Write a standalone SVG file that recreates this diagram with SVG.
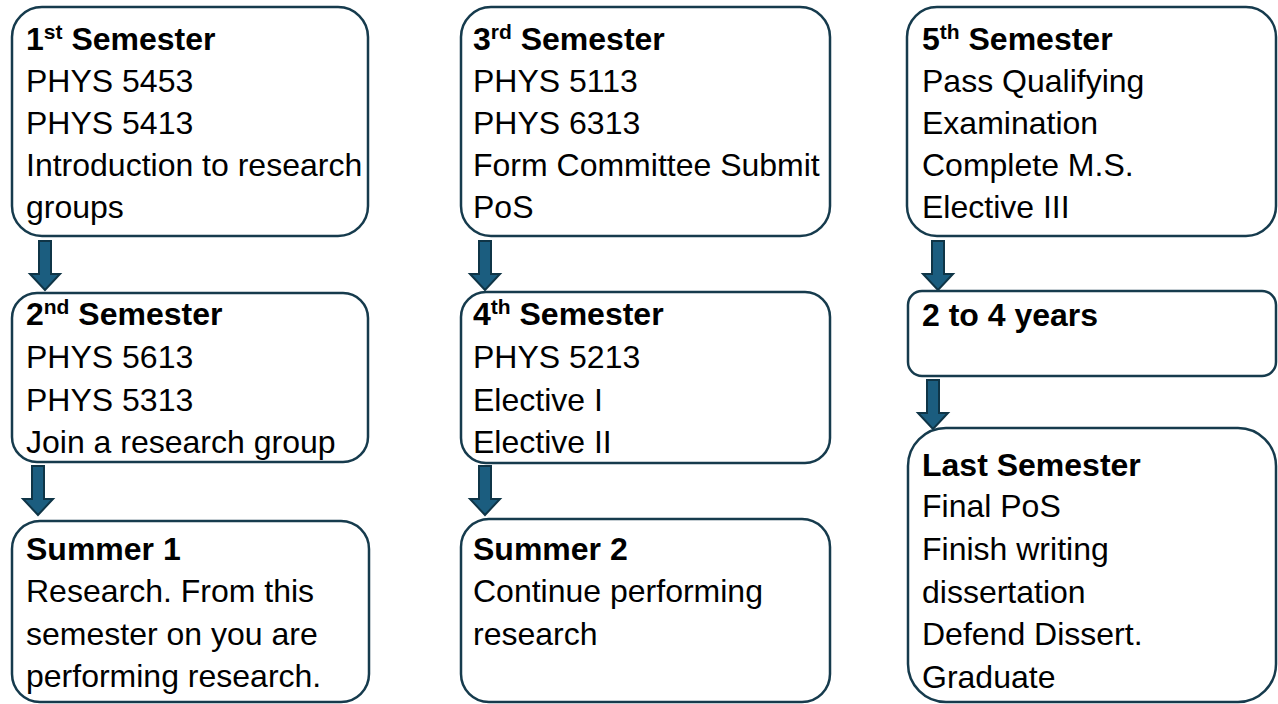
<svg xmlns="http://www.w3.org/2000/svg" width="1278" height="704" viewBox="0 0 1278 704">
<style>
.box{fill:#ffffff;stroke:#163b4d;stroke-width:2.5}
.t{font-family:"Liberation Sans",Arial,sans-serif;font-size:32px;fill:#000000}
.b{font-weight:bold}
.sup{font-size:21px}
.arr{fill:#1b5d7f;stroke:#0f3547;stroke-width:2;stroke-linejoin:miter}
</style>
<defs>
<path id="arrow" class="arr" d="M -6 0 H 6 V 33 H 15 L 0 49 L -15 33 H -6 Z"/>
</defs>
<rect width="1278" height="704" fill="#ffffff"/>
<g id="connectors">
<use href="#arrow" x="45" y="241"/>
<use href="#arrow" x="38" y="466"/>
<use href="#arrow" x="485" y="241"/>
<use href="#arrow" x="485" y="466"/>
<use href="#arrow" x="938" y="241"/>
<use href="#arrow" x="933" y="380"/>
</g>
<g id="sem1">
<rect class="box" x="12" y="7" width="356" height="229" rx="30"/>
<text class="t" x="26" y="50"><tspan class="b">1</tspan><tspan class="b sup" dy="-11">st</tspan><tspan class="b" dy="11"> Semester</tspan></text>
<text class="t" x="26" y="92">PHYS 5453</text>
<text class="t" x="26" y="134">PHYS 5413</text>
<text class="t" x="26" y="176">Introduction to research</text>
<text class="t" x="26" y="218">groups</text>
</g>
<g id="sem2">
<rect class="box" x="12" y="293" width="356" height="169" rx="25"/>
<text class="t" x="26" y="325"><tspan class="b">2</tspan><tspan class="b sup" dy="-11">nd</tspan><tspan class="b" dy="11"> Semester</tspan></text>
<text class="t" x="26" y="368">PHYS 5613</text>
<text class="t" x="26" y="411">PHYS 5313</text>
<text class="t" x="26" y="453">Join a research group</text>
</g>
<g id="summer1">
<rect class="box" x="12" y="521" width="357" height="181" rx="28"/>
<text class="t b" x="26" y="560">Summer 1</text>
<text class="t" x="26" y="602">Research. From this</text>
<text class="t" x="26" y="645">semester on you are</text>
<text class="t" x="26" y="687">performing research.</text>
</g>
<g id="sem3">
<rect class="box" x="461" y="7" width="369" height="229" rx="30"/>
<text class="t" x="473" y="50"><tspan class="b">3</tspan><tspan class="b sup" dy="-11">rd</tspan><tspan class="b" dy="11"> Semester</tspan></text>
<text class="t" x="473" y="92">PHYS 5113</text>
<text class="t" x="473" y="134">PHYS 6313</text>
<text class="t" x="473" y="176">Form Committee Submit</text>
<text class="t" x="473" y="218">PoS</text>
</g>
<g id="sem4">
<rect class="box" x="461" y="292" width="369" height="171" rx="25"/>
<text class="t" x="473" y="325"><tspan class="b">4</tspan><tspan class="b sup" dy="-11">th</tspan><tspan class="b" dy="11"> Semester</tspan></text>
<text class="t" x="473" y="368">PHYS 5213</text>
<text class="t" x="473" y="411">Elective I</text>
<text class="t" x="473" y="453">Elective II</text>
</g>
<g id="summer2">
<rect class="box" x="461" y="519" width="369" height="183" rx="28"/>
<text class="t b" x="473" y="560">Summer 2</text>
<text class="t" x="473" y="602">Continue performing</text>
<text class="t" x="473" y="645">research</text>
</g>
<g id="sem5">
<rect class="box" x="907" y="7" width="369" height="229" rx="30"/>
<text class="t" x="922" y="50"><tspan class="b">5</tspan><tspan class="b sup" dy="-11">th</tspan><tspan class="b" dy="11"> Semester</tspan></text>
<text class="t" x="922" y="92">Pass Qualifying</text>
<text class="t" x="922" y="134">Examination</text>
<text class="t" x="922" y="176">Complete M.S.</text>
<text class="t" x="922" y="218">Elective III</text>
</g>
<g id="years">
<rect class="box" x="908" y="291" width="368" height="85" rx="14"/>
<text class="t b" x="922" y="326">2 to 4 years</text>
</g>
<g id="last">
<rect class="box" x="908" y="428" width="368" height="274" rx="38"/>
<text class="t b" x="922" y="476">Last Semester</text>
<text class="t" x="922" y="517">Final PoS</text>
<text class="t" x="922" y="560">Finish writing</text>
<text class="t" x="922" y="603">dissertation</text>
<text class="t" x="922" y="645">Defend Dissert.</text>
<text class="t" x="922" y="688">Graduate</text>
</g>
</svg>
